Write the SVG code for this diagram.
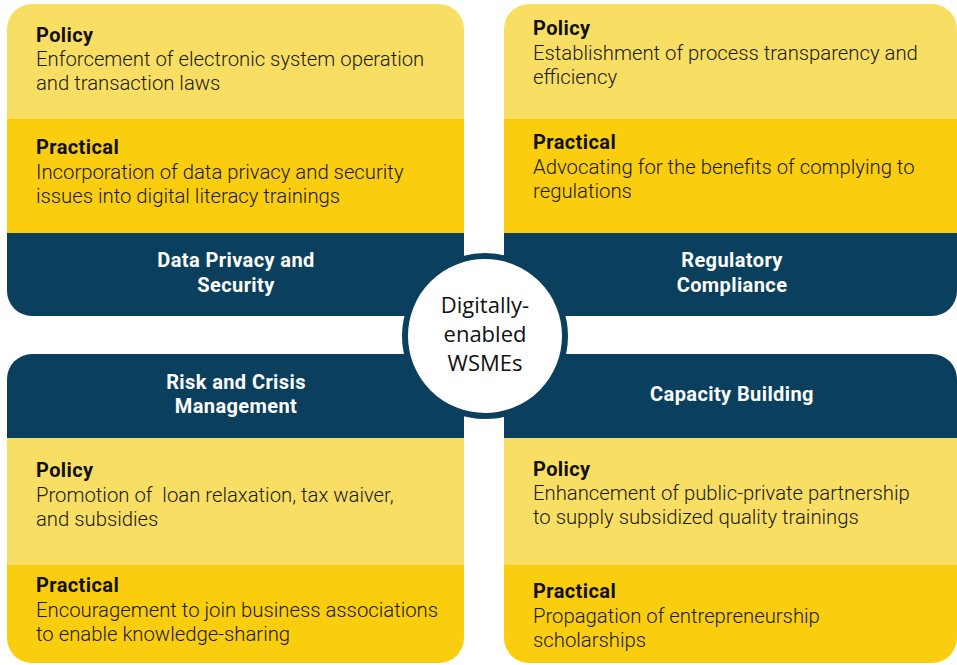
<svg xmlns="http://www.w3.org/2000/svg" width="957" height="665" viewBox="0 0 957 665">
<style>
.lt{fill:#F9DE64}
.md{fill:#FBCD0F}
.dk{fill:#0A405E}
.h{font-family:Roboto,"Open Sans",sans-serif;font-weight:700;font-size:20px;letter-spacing:0.4px;fill:#fff;text-anchor:middle}
.lb{font-family:Roboto,"Open Sans",sans-serif;font-weight:700;font-size:20px;letter-spacing:0.4px;fill:#111}
.tx{font-family:Roboto,"Open Sans",sans-serif;font-weight:300;font-size:20.3px;fill:#1a1a1a}
.ct{font-family:"Open Sans","Liberation Sans",sans-serif;font-weight:400;font-size:22px;fill:#111;text-anchor:middle}
</style>
<rect width="957" height="665" fill="#fff"/>
<g id="data-privacy">
<path class="lt" d="M7,29 a25,25 0 0 1 25,-25 H439 a25,25 0 0 1 25,25 V119 H7 Z"/>
<rect class="md" x="7" y="119" width="457" height="114"/>
<path class="dk" d="M7,233 H464 V316 H32 a25,25 0 0 1 -25,-25 Z"/>
<text class="lb" x="36" y="42">Policy</text>
<text class="tx" x="36" y="66">Enforcement of electronic system operation</text>
<text class="tx" x="36" y="90">and transaction laws</text>
<text class="lb" x="36" y="154">Practical</text>
<text class="tx" x="36" y="179">Incorporation of data privacy and security</text>
<text class="tx" x="36" y="203">issues into digital literacy trainings</text>
<text class="h" x="236" y="267">Data Privacy and</text>
<text class="h" x="236" y="292">Security</text>
</g>
<g id="regulatory-compliance">
<path class="lt" d="M504,29 a25,25 0 0 1 25,-25 H932 a25,25 0 0 1 25,25 V119 H504 Z"/>
<rect class="md" x="504" y="119" width="453" height="114"/>
<path class="dk" d="M504,233 H957 V291 a25,25 0 0 1 -25,25 H504 Z"/>
<text class="lb" x="533" y="35">Policy</text>
<text class="tx" x="533" y="60">Establishment of process transparency and</text>
<text class="tx" x="533" y="84">efficiency</text>
<text class="lb" x="533" y="149">Practical</text>
<text class="tx" x="533" y="174">Advocating for the benefits of complying to</text>
<text class="tx" x="533" y="198">regulations</text>
<text class="h" x="732" y="267">Regulatory</text>
<text class="h" x="732" y="292">Compliance</text>
</g>
<g id="risk-crisis">
<path class="dk" d="M7,379 a25,25 0 0 1 25,-25 H464 V438 H7 Z"/>
<rect class="lt" x="7" y="438" width="457" height="127"/>
<path class="md" d="M7,565 H464 V638 a25,25 0 0 1 -25,25 H32 a25,25 0 0 1 -25,-25 Z"/>
<text class="h" x="236" y="389">Risk and Crisis</text>
<text class="h" x="236" y="413">Management</text>
<text class="lb" x="36" y="477">Policy</text>
<text class="tx" x="36" y="502" xml:space="preserve">Promotion of  loan relaxation, tax waiver,</text>
<text class="tx" x="36" y="526">and subsidies</text>
<text class="lb" x="36" y="592">Practical</text>
<text class="tx" x="36" y="617">Encouragement to join business associations</text>
<text class="tx" x="36" y="641">to enable knowledge-sharing</text>
</g>
<g id="capacity-building">
<path class="dk" d="M504,354 H932 a25,25 0 0 1 25,25 V438 H504 Z"/>
<rect class="lt" x="504" y="438" width="453" height="127"/>
<path class="md" d="M504,565 H957 V638 a25,25 0 0 1 -25,25 H529 a25,25 0 0 1 -25,-25 Z"/>
<text class="h" x="732" y="401">Capacity Building</text>
<text class="lb" x="533" y="476">Policy</text>
<text class="tx" x="533" y="500">Enhancement of public-private partnership</text>
<text class="tx" x="533" y="524">to supply subsidized quality trainings</text>
<text class="lb" x="533" y="598">Practical</text>
<text class="tx" x="533" y="623">Propagation of entrepreneurship</text>
<text class="tx" x="533" y="647">scholarships</text>
</g>
<g id="center">
<circle cx="485" cy="336" r="80" fill="#fff" stroke="#0A405E" stroke-width="6"/>
<text class="ct" x="485" y="313">Digitally-</text>
<text class="ct" x="485" y="342">enabled</text>
<text class="ct" x="485" y="371">WSMEs</text>
</g>
<g id="connectors"></g>
</svg>
